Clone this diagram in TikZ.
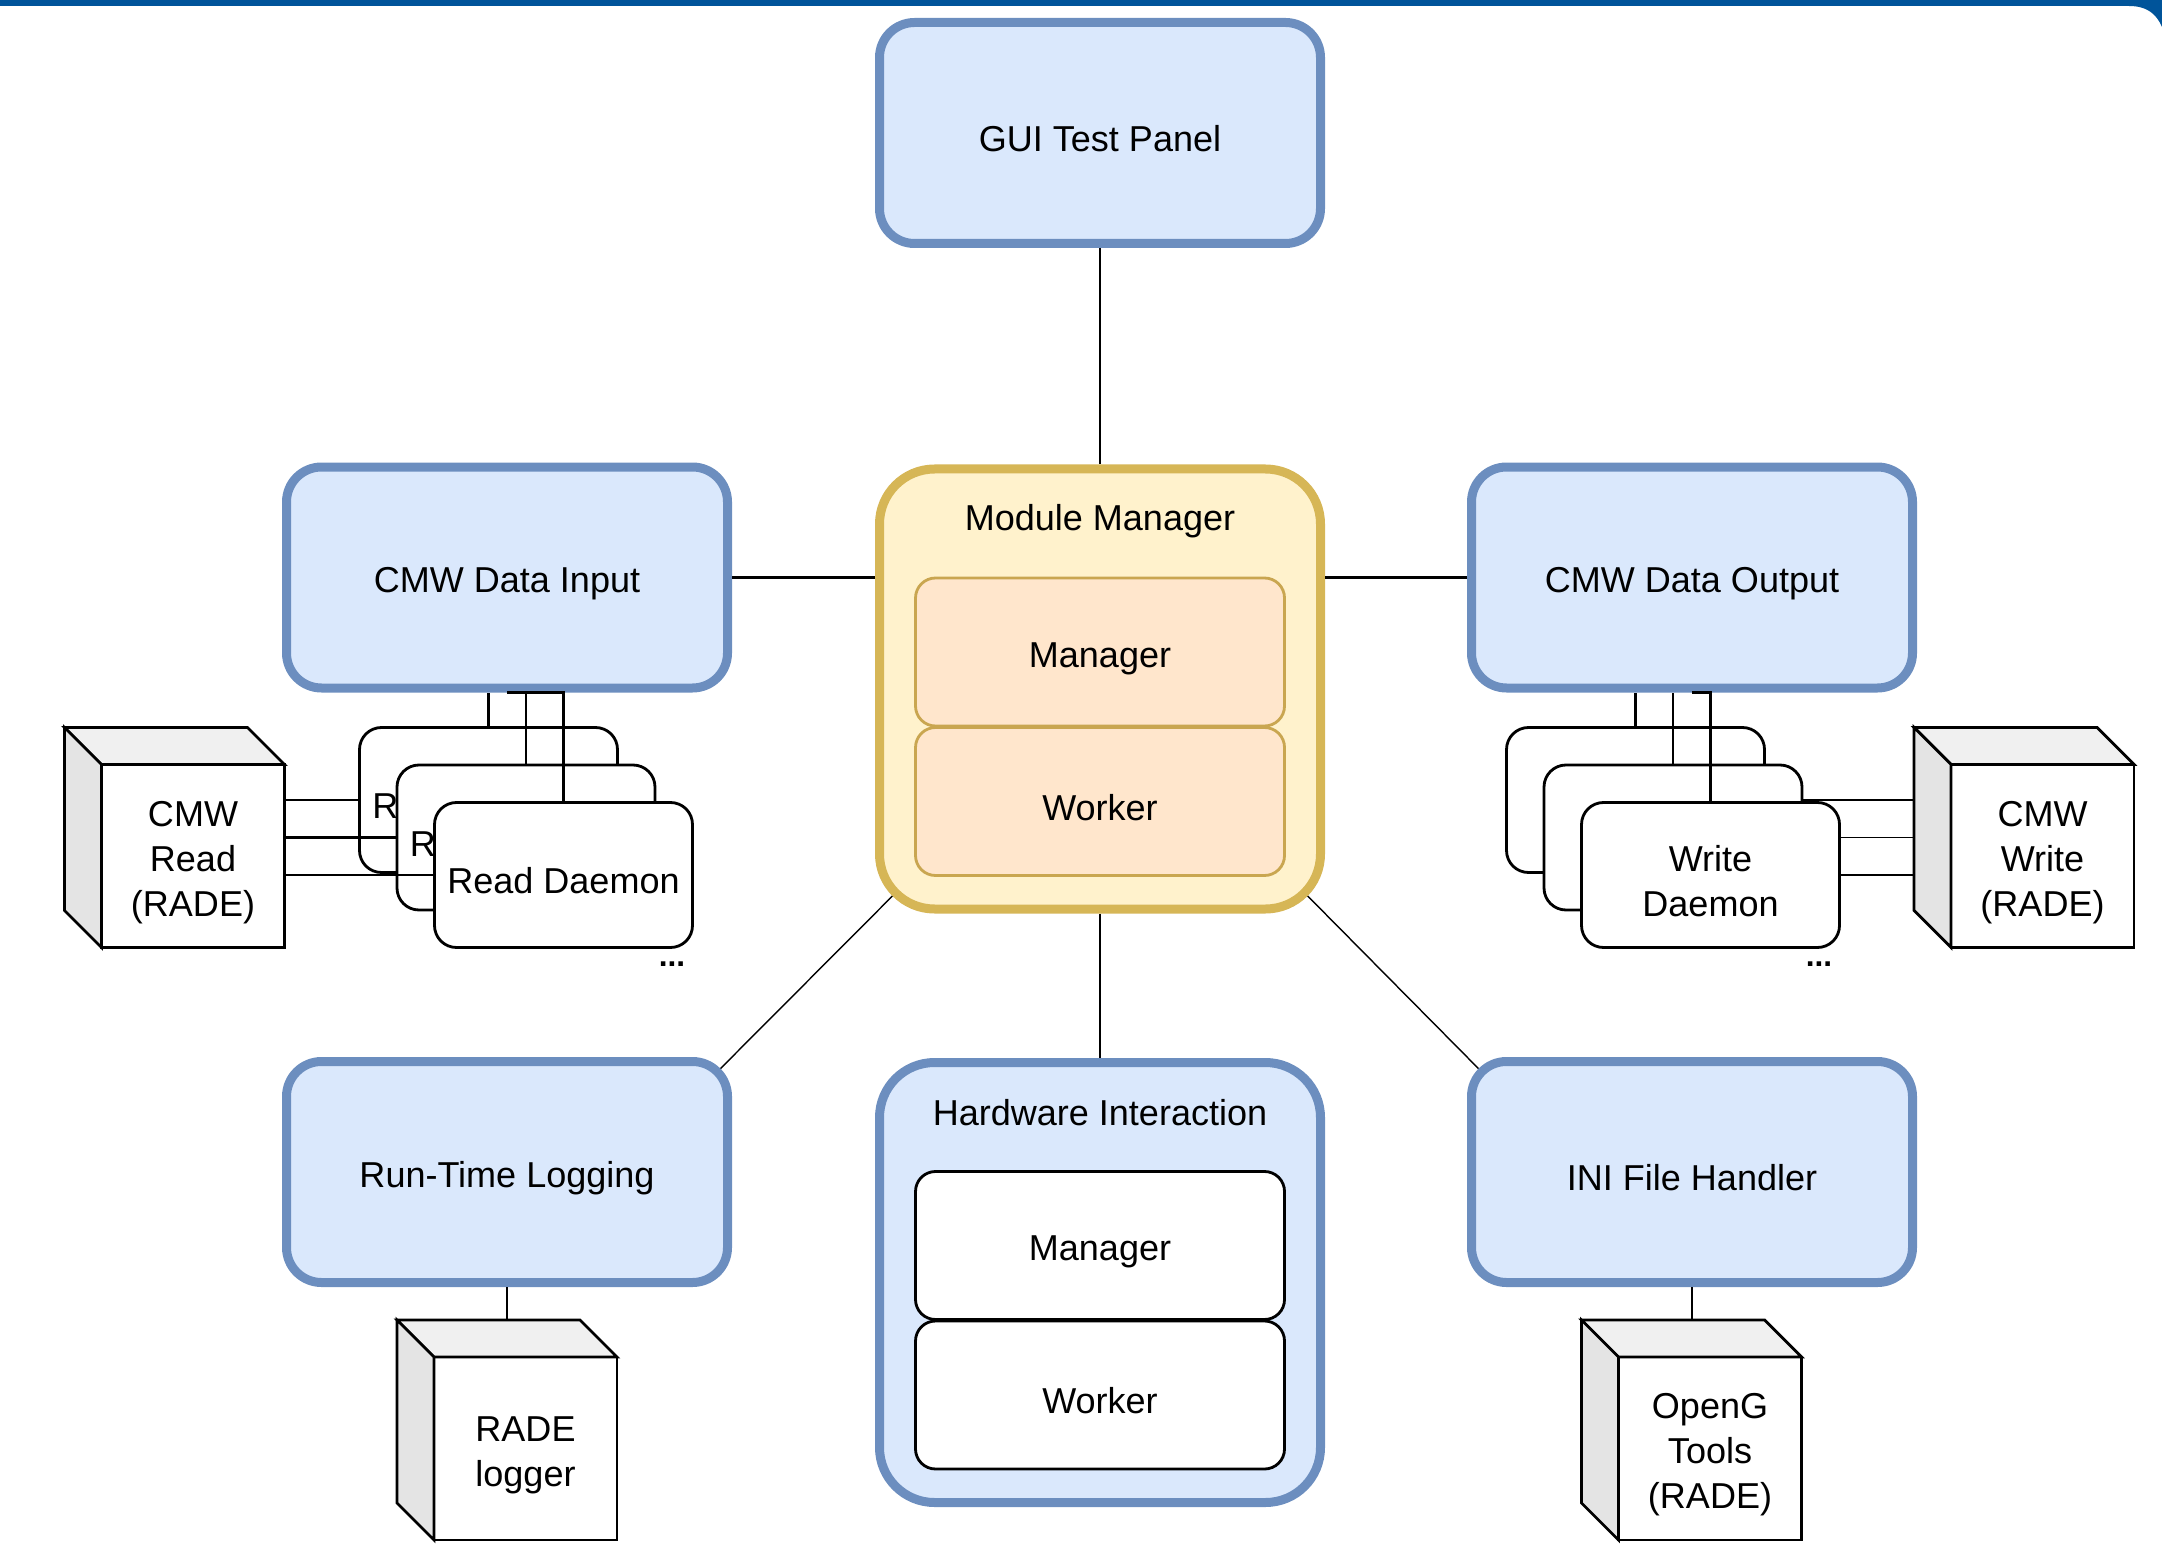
\documentclass[tikz,border=0pt]{standalone}
\usepackage{fontspec}
\setmainfont{Liberation Sans}
\usetikzlibrary{backgrounds}

\definecolor{bluefill}{HTML}{DAE8FC}
\definecolor{bluedraw}{HTML}{6C8EBF}
\definecolor{yellowfill}{HTML}{FFF2CC}
\definecolor{yellowdraw}{HTML}{D6B656}
\definecolor{orangefill}{HTML}{FFE6CC}
\definecolor{orangedraw}{HTML}{C9A650}
\definecolor{topgrey}{HTML}{F0F0F0}
\definecolor{sidegrey}{HTML}{E4E4E4}
\definecolor{bandblue}{HTML}{00549A}

% a little room above the first text line
\newcommand{\topgap}{\rule{0pt}{1.05em}}

% depth of the cube shapes, and the faces behind a cube's front node
\newcommand{\cubed}{0.37}
\newcommand{\cubeback}[1]{%
  \filldraw[fill=topgrey] (#1.north west) -- ++(-\cubed,\cubed) -- ([shift={(-\cubed,\cubed)}]#1.north east) -- (#1.north east) -- cycle;
  \filldraw[fill=sidegrey] (#1.north west) -- ++(-\cubed,\cubed) -- ([shift={(-\cubed,\cubed)}]#1.south west) -- (#1.south west) -- cycle;
  \coordinate (#1 top) at ([yshift=\cubed cm]#1.north);
  \coordinate (#1 back) at ([xshift=-\cubed cm]#1.west);
}

\begin{document}
\begin{tikzpicture}[
    line width=0.8pt,
    every node/.style={align=center, text centered, font=\fontsize{10.25}{12.8}\selectfont,
      execute at begin node=\topgap},
    box/.style={draw=bluedraw, fill=bluefill, line width=0.09cm, rounded corners=0.35cm, minimum width=4.41cm, minimum height=2.21cm},
    bigbox/.style={box, rounded corners=0.55cm, minimum height=4.40cm},
    mmbox/.style={bigbox, draw=yellowdraw, fill=yellowfill},
    part/.style={draw, fill=white, line width=0.8pt, rounded corners=0.2cm, minimum width=3.69cm, minimum height=1.48cm},
    mmpart/.style={part, draw=orangedraw, fill=orangefill},
    daemon/.style={draw, fill=white, rounded corners=0.22cm, minimum width=2.58cm, minimum height=1.45cm},
    cube/.style={draw, fill=white, minimum width=1.83cm, minimum height=1.83cm, outer sep=0pt},
    more/.style={inner sep=0pt, anchor=base, font=\bfseries\fontsize{9}{10}\selectfont},
    ]
    \useasboundingbox (0,0) rectangle (21.62,15.46);

    % Frame band
    \fill[bandblue] (0,15.46) -- (21.62,15.46) -- (21.62,15.19) .. controls (21.56,15.33) and (21.46,15.40) .. (21.29,15.40) -- (0,15.40) -- cycle;

    % Row 1: GUI
    \node[box] (gui) at (11.00, 14.13) {GUI Test Panel};

    % Row 2: data input, manager, data output
    \node[box] (din) at (5.07, 9.685) {CMW Data Input};
    \node[mmbox] (mm) at (11.00, 8.57) {};
    \node (mmtitle) at (11.00, 10.31) {Module Manager};
    \node[mmpart] (mmmgr) at (11.00, 8.94) {Manager};
    \node[mmpart] (mmwrk) at (11.00, 7.445) {Worker};
    \node[box] (dout) at (16.92, 9.685) {CMW Data Output};

    % Read daemons and CMW read
    \node[daemon] (rd1) at (4.885, 7.46) {Read Daemon};
    \node[daemon] (rd2) at (5.26, 7.085) {Read Daemon};
    \node[daemon] (rd3) at (5.635, 6.71) {Read Daemon};
    \node[more] (rdots) at (6.72, 5.80) {...};
    \node[cube] (cmwread) at (1.93, 6.90) {\topgap CMW\\Read\\(RADE)};
    \cubeback{cmwread}

    % Write daemons and CMW write
    \node[daemon] (wd1) at (16.355, 7.46) {};
    \node[daemon] (wd2) at (16.73, 7.085) {};
    \node[daemon] (wd3) at (17.105, 6.71) {\topgap Write\\Daemon};
    \node[more] (wdots) at (18.19, 5.80) {...};
    \node[cube] (cmwwrite) at (20.425, 6.90) {\topgap CMW\\Write\\(RADE)};
    \cubeback{cmwwrite}

    % Row 3: logging, hardware, ini files
    \node[box] (rtl) at (5.07, 3.74) {Run-Time Logging};
    \node[bigbox] (hw) at (11.00, 2.635) {};
    \node (hwtitle) at (11.00, 4.39) {Hardware Interaction};
    \node[part] (hwmgr) at (11.00, 3.005) {Manager};
    \node[part] (hwwrk) at (11.00, 1.51) {Worker};
    \node[box] (ini) at (16.92, 3.74) {INI File Handler};

    % Row 4: RADE tools
    \node[cube] (logger) at (5.255, 0.975) {\topgap RADE\\logger};
    \cubeback{logger}
    \node[cube] (openg) at (17.10, 0.975) {\topgap OpenG\\Tools\\(RADE)};
    \cubeback{openg}

    % Edges
    \draw (gui) -- (mm);
    \draw (din.east) -- (din.east -| mm.west);
    \draw (dout.west) -- (dout.west -| mm.east);
    \draw (mm) -- (hw);
    \draw (rtl.south) -- (rtl.south |- logger top);
    \draw (ini.south) -- (ini.south |- openg top);
    \draw (rd1.north) -- (rd1.north |- din.south);
    \draw (rd2.north) -- (rd2.north |- din.south);
    \draw (din.south) -| (rd3.north);
    \draw (rd1.west -| cmwread.east) -- (rd1.west);
    \draw (rd2.west -| cmwread.east) -- (rd2.west);
    \draw (rd3.west -| cmwread.east) -- (rd3.west);
    \draw (wd1.north) -- (wd1.north |- dout.south);
    \draw (wd2.north) -- (wd2.north |- dout.south);
    \draw (dout.south) -| (wd3.north);
    \begin{scope}[on background layer]
      \draw[shorten <=-0.5cm, shorten >=-0.5cm] (mm.south west) -- (rtl.north east);
      \draw[shorten <=-0.5cm, shorten >=-0.5cm] (mm.south east) -- (ini.north west);
      \draw (wd1.east) -- (wd1.east -| cmwwrite back);
      \draw (wd2.east) -- (wd2.east -| cmwwrite back);
      \draw (wd3.east) -- (wd3.east -| cmwwrite back);
    \end{scope}
  \end{tikzpicture}
\end{document}
